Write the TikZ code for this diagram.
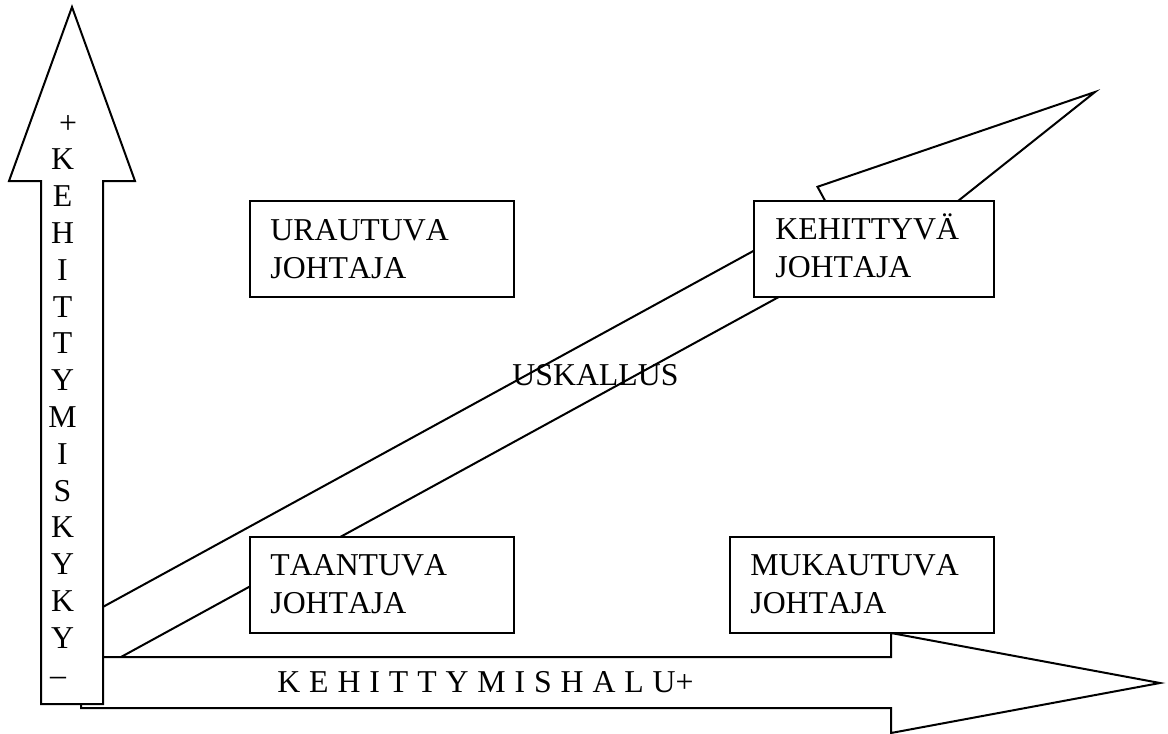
\documentclass[tikz,border=0pt]{standalone}
\usepackage{fontspec}
\setmainfont[Kerning=Off]{Liberation Serif}
\usetikzlibrary{calc}

\tikzset{
  blockarrow/.style={draw=black, line width=1pt, fill=white, line join=miter},
  box/.style={draw=black, line width=1pt, fill=white, rectangle, inner sep=0pt,
              minimum height=48pt, anchor=north west},
  boxtext/.style={anchor=base west, inner sep=0pt, font=\fontsize{15.9}{19}\selectfont},
}

\newcommand{\twolines}[2]{\parbox[t]{125pt}{#1\\#2}}

\begin{document}
\begin{tikzpicture}[x=0.5pt, y=-0.5pt]
\useasboundingbox (0,0) rectangle (1168,734);

% diagonal arrow "USKALLUS" (drawn first, lies underneath)
\draw[blockarrow] (90,614) -- (829.7,209.2) -- (817.5,186.8) -- (1095,92)
  -- (865.5,274.6) -- (854.9,255.3) -- (100,668.5) -- cycle;

% horizontal axis arrow
\draw[blockarrow] (81,657) -- (891,657) -- (891,633) -- (1160,683)
  -- (891,733) -- (891,708) -- (81,708) -- cycle;

% vertical axis arrow
\draw[blockarrow] (41,704) -- (41,181) -- (9,181) -- (72,7)
  -- (135,181) -- (103,181) -- (103,704) -- cycle;

% four leader types
\node[box, minimum width=132pt] (urautuva)  at (249,200) {};
\node[box, minimum width=120pt] (kehittyva) at (753,200) {};
\node[box, minimum width=132pt] (taantuva)  at (249,536) {};
\node[box, minimum width=132pt] (mukautuva) at (729,536) {};

\node[boxtext] (urautuvaT)  at ($(urautuva.north west)+(21,40)$)  {\twolines{URAUTUVA}{JOHTAJA}};
\node[boxtext] (kehittyvaT) at ($(kehittyva.north west)+(22,39.5)$) {\twolines{KEHITTYVÄ}{JOHTAJA}};
\node[boxtext] (taantuvaT)  at ($(taantuva.north west)+(21,39.5)$)  {\twolines{TAANTUVA}{JOHTAJA}};
\node[boxtext] (mukautuvaT) at ($(mukautuva.north west)+(21,39.5)$) {\twolines{MUKAUTUVA}{JOHTAJA}};

% axis and arrow labels
\node[boxtext] (uskallus) at (512,385) {USKALLUS};
\node[boxtext] (halu) at (277,692) {\spaceskip=4.45pt K E H I T T Y M I S H A L U+};
\node[boxtext, anchor=base] (kyky) at (62.5,133)
  {\parbox[t]{30pt}{\centering\fontsize{15.9}{18.4}\selectfont
   \leavevmode\kern5.5pt+\\K\\E\\H\\I\\T\\T\\Y\\M\\I\\S\\K\\Y\\K\\Y\\--\kern4.5pt}};
\end{tikzpicture}
\end{document}
